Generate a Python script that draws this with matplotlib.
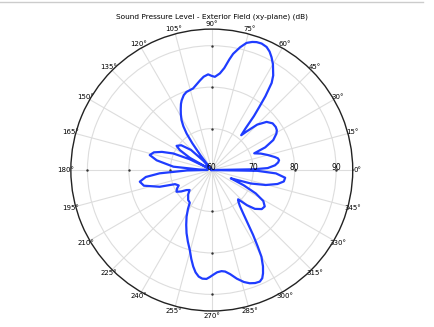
import numpy as np
import matplotlib.pyplot as plt
import matplotlib.transforms as mtransforms
from matplotlib.lines import Line2D

# angle (deg) and sound pressure level (dB)
theta_deg = [0, 1, 2, 4.3, 6.5, 8.3, 10, 11.7, 15, 18.5, 21.5, 23, 26, 29.4, 31.5, 33.9, 37.5, 41.3,
             45, 48, 49.8, 51, 52, 53, 54, 55.5, 57, 58.4, 60, 62.1, 64, 66, 68.5, 70.7, 72.5, 74.7,
             77, 79.6, 81, 83, 85.2, 88.1, 90, 92.2, 95, 97.5, 100, 102.9, 105.3, 108, 110.5, 113.4,
             115, 117, 119, 121.2, 123, 124.6, 126, 127.5, 129, 130, 132, 136, 141, 145.5, 148, 151,
             152, 154, 156.7, 160, 163, 166.4, 170, 175, 177.5, 179, 181, 183.6, 186, 189.2, 193,
             197.8, 201, 205, 208, 211.6, 215, 218.3, 222, 226, 231.7, 236, 238.5, 241.6, 245, 248.2,
             251.5, 254.6, 257, 259.1, 261, 263, 265, 267.2, 269, 271, 273, 275.5, 277.5, 280, 283,
             286, 288.5, 291, 293.3, 295, 296.4, 298, 299.8, 301, 302.5, 304, 305.9, 308, 310, 312,
             315, 318, 322, 325.5, 329, 332, 334.5, 336.5, 338.5, 341, 344.5, 348, 351, 354, 357,
             359, 360]
spl_db = [60, 70, 73.5, 75.3, 76.1, 76.4, 76.2, 75.5, 74, 72.5, 71.0, 74.0, 76.5, 77.9, 78.4, 78.6,
          78.5, 77.6, 75.5, 72.5, 71, 73, 76.5, 79, 82, 85.5, 87.2, 88.2, 89.5, 90.8, 91.8, 92.5,
          92.8, 92.7, 92.4, 91.8, 90.4, 88.5, 87, 84.8, 83.4, 82.5, 82.7, 83.1, 82.6, 81.8, 81,
          80.2, 80, 79.8, 79.3, 78.3, 77.6, 76.5, 75.4, 74.1, 72.6, 70.7, 68, 64.5, 61, 60, 63, 67,
          69.5, 70.3, 69.1, 66, 61, 66, 70.1, 72.8, 74.6, 75.4, 73.5, 69.3, 63, 61, 66, 72.6, 76,
          77.6, 76.8, 73.2, 69.5, 68.8, 69.5, 70, 69, 67.8, 67.2, 68.2, 69.2, 69.5, 71, 72.8, 74.6,
          76.4, 78.2, 80, 82, 83.7, 85, 85.9, 86.3, 86.3, 85.8, 85.2, 84.7, 84.5, 84.7, 85.5, 86.9,
          88.1, 88.8, 89.2, 89.3, 88.8, 87.8, 86.3, 84.1, 81.5, 78.5, 75.5, 72.9, 71, 70, 69.5, 72,
          74, 75.3, 75.5, 74.5, 72, 68.5, 65, 66.5, 70, 73.5, 76.2, 77.6, 77.8, 75.5, 71, 60]

r_ticks = [70, 80, 90]
r_labels = ['60', '70', '80', '90']

fig = plt.figure(figsize=(4.34, 3.27), dpi=100)
ax = fig.add_axes([0.163, 0.049, 0.650, 0.862], projection='polar')

ax.plot(np.deg2rad(theta_deg), spl_db, color='#1f3cff', lw=1.6, zorder=5)

ax.set_ylim(60, 94)
ax.set_yticks(r_ticks)
ax.set_yticklabels([])
ax.set_thetagrids(range(0, 360, 15))
ax.tick_params(axis='x', labelsize=5, pad=-7)
ax.grid(color='#dddddd', lw=0.8)
ax.spines['polar'].set_color('#222222')
ax.spines['polar'].set_linewidth(1.0)

# radial labels along the 0 deg ray
off = mtransforms.offset_copy(ax.transData, fig=fig, x=0, y=2, units='points')
for r, lab in zip([60] + r_ticks, r_labels):
    ax.text(0, r, lab, transform=off, ha='center', va='center', fontsize=5.5, zorder=6)

# little tick marks on the axes
for a in [0, 90, 180, 270]:
    ax.plot(np.full(3, np.deg2rad(a)), r_ticks, ls='none', marker='.', ms=1.5, color='#333333', zorder=4)

fig.text(0.488, 0.950, 'Sound Pressure Level - Exterior Field (xy-plane) (dB)', ha='center', va='center', fontsize=5.3)
fig.add_artist(Line2D([0, 0.975], [0.994, 0.994], color='#cccccc', lw=1))

fig.savefig('out.png', dpi=100)
